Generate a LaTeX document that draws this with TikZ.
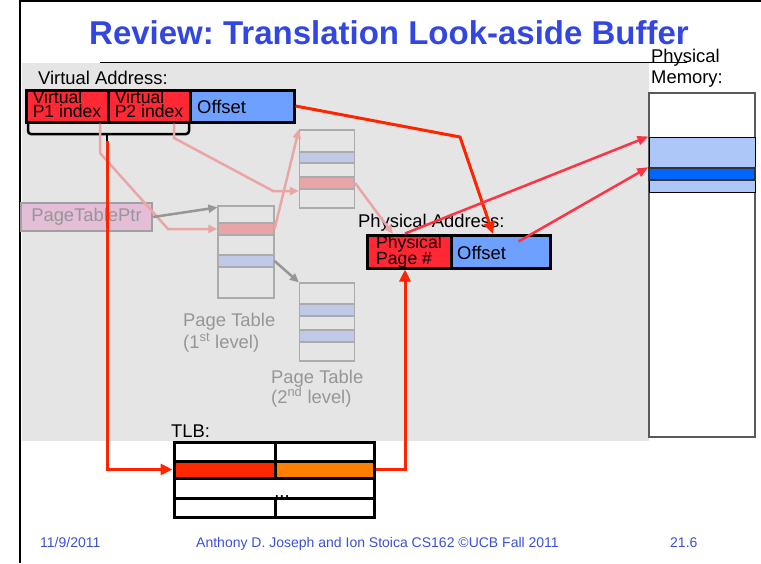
\documentclass[tikz,border=0pt]{standalone}
\usepackage{fontspec}
\setmainfont{Liberation Sans}
\usetikzlibrary{arrows.meta}
\frenchspacing

\definecolor{titleblue}{RGB}{50,70,225}
\definecolor{footblue}{RGB}{60,80,215}
\definecolor{slidegray}{RGB}{229,229,229}
\definecolor{addrred}{RGB}{255,40,52}
\definecolor{addrblue}{RGB}{110,160,255}
\definecolor{linkred}{RGB}{255,36,0}
\definecolor{memred}{RGB}{255,50,70}
\definecolor{fadered}{RGB}{235,165,165}
\definecolor{fadegray}{RGB}{150,150,150}
\definecolor{rowred}{RGB}{232,165,168}
\definecolor{rowblue}{RGB}{190,202,232}
\definecolor{ptrpink}{RGB}{228,190,214}
\definecolor{memlight}{RGB}{173,200,248}
\definecolor{memdark}{RGB}{0,102,255}
\definecolor{tlbred}{RGB}{255,40,0}
\definecolor{tlborange}{RGB}{255,128,0}

\tikzset{
  lbl/.style={font=\fontsize{18.4}{15}\selectfont, inner sep=0pt},
  graylbl/.style={lbl, text=fadegray, align=left},
  celltxt/.style={font=\fontsize{17.6}{14.5}\selectfont, inner sep=0pt, align=left},
  cell/.style={draw=black, line width=3pt, inner sep=0pt},
  ptbox/.style={draw=fadegray!80, line width=1.2pt, inner sep=0pt, minimum width=55pt},
  ptrow/.style={ptbox, minimum height=12pt},
  foot/.style={font=\fontsize{14}{16}\selectfont, text=footblue, inner sep=0pt, anchor=base west},
  redlink/.style={draw=linkred, line width=3pt, -{Triangle[length=12pt,width=11pt]}},
  memlink/.style={draw=memred, line width=2.5pt, -{Triangle[length=11pt,width=9pt]}},
  fadelink/.style={draw=fadered, line width=2.5pt, -{Triangle[length=9pt,width=8pt]}},
  graylink/.style={draw=fadegray, line width=2.5pt, -{Triangle[length=9pt,width=8pt]}}
}

\begin{document}
\begin{tikzpicture}[x=1pt, y=-1pt]
\useasboundingbox (0,0) rectangle (761,563);

% slide frame and title
\fill[slidegray] (22,63) rectangle (649,441);
\draw[line width=2pt] (20,563) -- (20,1) -- (761,1);
\node[font=\fontsize{33}{36}\selectfont\bfseries, text=titleblue, inner sep=0pt, anchor=base] (title) at (389,44) {Review: Translation Look-aside Buffer};
\draw[line width=1pt] (100,62) -- (687,62);

% virtual address
\node[lbl, anchor=base west] (valbl) at (38,84) {Virtual Address:};
\node[cell, fill=addrred, minimum width=82pt, minimum height=32pt] (p1) at (67,106) {};
\node[cell, fill=addrred, minimum width=82pt, minimum height=32pt] (p2) at (149,106) {};
\node[cell, fill=addrblue, minimum width=104pt, minimum height=32pt] (voff) at (242,106) {};
\node[celltxt] (p1txt) at (67,104) {Virtual\\P1 index};
\node[celltxt] (p2txt) at (149,104) {Virtual\\P2 index};
\node[lbl, anchor=base west] (vofftxt) at (197,113) {Offset};
\draw[line width=2.5pt, rounded corners=3pt] (28,122) -- (28,134) -- (189,134) -- (189,122);
\draw[line width=2.5pt] (107,134) -- (107,142);
\coordinate (bracetip) at (107,141);

% page table pointer and page tables
\node[draw=fadegray!90, line width=2.5pt, fill=ptrpink, minimum width=131pt, minimum height=28pt, inner sep=0pt,
      font=\fontsize{18.4}{15}\selectfont, text=fadegray] (ptp) at (86.5,217) {PageTablePtr};
\node[ptbox, minimum width=56pt, minimum height=92pt] (pt1) at (246,252) {};
\node[ptrow, fill=rowred, minimum width=56pt] (pt1r) at (246,229) {};
\node[ptrow, fill=rowblue, minimum width=56pt] (pt1b) at (246,261) {};
\node[ptbox, minimum height=78pt] (pt2a) at (327,169) {};
\node[ptrow, fill=rowblue, minimum height=11pt] (pt2ab) at (327,157.5) {};
\node[ptrow, fill=rowred] (pt2ar) at (327,183) {};
\node[ptbox, minimum height=78pt] (pt2b) at (327,322) {};
\node[ptrow, fill=rowblue] (pt2bb) at (327,310) {};
\node[ptrow, fill=rowblue] (pt2bc) at (327,336) {};
\node[graylbl, anchor=north west, font=\fontsize{18.4}{22}\selectfont] (pt1lbl) at (183,312.7) {Page Table\\(1\textsuperscript{st} level)};
\node[graylbl, anchor=north west, font=\fontsize{18.4}{20}\selectfont] (pt2lbl) at (271,369.7) {Page Table\\(2\textsuperscript{nd} level)};

% physical memory
\node[lbl, anchor=north west, align=left, font=\fontsize{18.4}{21}\selectfont] (pmlbl) at (651,48.7) {Physical\\Memory:};
\node[draw=black!65, line width=1.5pt, fill=white, minimum width=106pt, minimum height=344pt, inner sep=0pt] (mem) at (702,265) {};
\node[draw=black, line width=1pt, fill=memlight, minimum width=106pt, minimum height=55pt, inner sep=0pt] (mlight) at (702,164.5) {};
\node[draw=black!80, line width=1.5pt, fill=memdark, minimum width=106pt, minimum height=12pt, inner sep=0pt] (mdark) at (702,174) {};

% physical address
\node[lbl, anchor=base west] (palbl) at (358,227) {Physical Address:};
\node[cell, fill=addrred, minimum width=84pt, minimum height=33pt] (ppn) at (409,251.5) {};
\node[cell, fill=addrblue, minimum width=99pt, minimum height=33pt] (poff) at (500.5,251.5) {};
\node[celltxt, anchor=west] (ppntxt) at (376,252) {Physical\\Page \#};
\node[lbl, anchor=base west] (pofftxt) at (457,259) {Offset};

% TLB
\node[lbl, anchor=base west] (tlblbl) at (171,437) {TLB:};
\node[cell, fill=white, minimum width=101pt, minimum height=19pt] (tlbl1) at (224.5,451.5) {};
\node[cell, fill=white, minimum width=99pt, minimum height=19pt] (tlbr1) at (324.5,451.5) {};
\node[cell, fill=tlbred, minimum width=101pt, minimum height=17pt] (tlbl2) at (224.5,469.5) {};
\node[cell, fill=tlborange, minimum width=99pt, minimum height=17pt] (tlbr2) at (324.5,469.5) {};
\node[cell, fill=white, minimum width=200pt, minimum height=20pt] (tlb3) at (274,488) {};
\node[cell, fill=white, minimum width=101pt, minimum height=19pt] (tlbl4) at (224.5,507.5) {};
\node[cell, fill=white, minimum width=99pt, minimum height=19pt] (tlbr4) at (324.5,507.5) {};
\node[lbl, anchor=base] (tlbdots) at (282,497) {...};

% faded walk through the page tables
\coordinate (k1) at (100,153);
\coordinate (k2) at (168,229);
\coordinate (k3) at (174,138);
\coordinate (k4) at (273,191);
\coordinate (k5) at (393,234);
\draw[fadelink] ([xshift=33pt]p1.south) -- (k1) -- (k2) -- (pt1r.west);
\draw[fadelink] ([xshift=25pt]p2.south) -- (k3) -- (k4) -- ([yshift=-8pt]pt2ar.west);
\draw[fadelink] (pt1r.east) -- (pt2a.north west);
\draw[fadelink] (pt2ar.east) -- (k5);
\draw[graylink] (ptp.east) -- ([yshift=-2pt]pt1.north west);
\draw[graylink] (pt1b.east) -- (pt2b.north west);

% the TLB path
\coordinate (bendoff) at (460,137);
\coordinate (offin) at (493,234);
\draw[redlink] (bracetip) |- (tlbl2.west);
\draw[redlink] (tlbr2.east) -| ([xshift=-4pt]ppn.south);
\draw[redlink] (voff.east) -- (bendoff) -- (offin);
\draw[memlink] ([xshift=-4pt]ppn.north) -- (mlight.north west);
\draw[memlink] ([xshift=18pt,yshift=-8pt]poff.north) -- (mdark.north west);

% footer
\node[foot] (date) at (40,547) {11/9/2011};
\node[foot] (authors) at (196,547) {Anthony D. Joseph and Ion Stoica CS162 ©UCB Fall 2011};
\node[foot] (slideno) at (670,547) {21.6};
\end{tikzpicture}
\end{document}
